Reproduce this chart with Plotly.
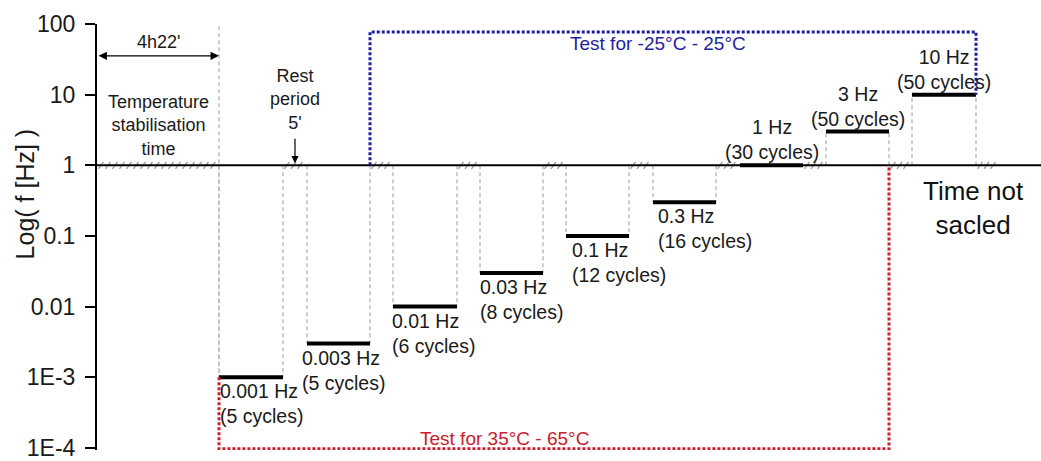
import numpy as np
import plotly.graph_objects as go

# ---- test programme (time axis is not to scale; units are arbitrary) ----
freq_hz = [0.001, 0.003, 0.01, 0.03, 0.1, 0.3, 1, 3, 10]
cycles = [5, 5, 6, 8, 12, 16, 30, 50, 50]
freq_text = ["0.001", "0.003", "0.01", "0.03", "0.1", "0.3", "1", "3", "10"]
step_start = [122, 210, 296, 383, 469, 556, 643, 729, 815]
step_end = [186, 273, 360, 446, 532, 619, 706, 792, 879]
stabilisation_end = 122
rest_after = [903]          # final rest after the 10 Hz step
time_end = 944

y_tickvals = [1e-4, 1e-3, 0.01, 0.1, 1, 10, 100]
y_ticktext = ["1E-4", "1E-3", "0.01", "0.1", "1", "10", "100"]

FONT = "Liberation Sans, Arial, sans-serif"
BLUE = "#1f1f9e"
RED = "#c8202e"
DASH_GREY = "#bdbdbd"
HATCH_GREY = "#9a9a9a"

# log range: a little room below 1E-4 so the bottom dotted border is not clipped
Y_LO, Y_HI = -4.03, 2.0
PX_PER_DECADE = 71.3
TOP = 24
plot_h = round((Y_HI - Y_LO) * PX_PER_DECADE)

fig = go.Figure()

# dashed guides from the 1 Hz baseline to each step level
gx, gy = [], []
for s, e, f in zip(step_start, step_end, freq_hz):
    for x in (s, e):
        gx += [x, x, None]
        gy += [1, f, None]
# end of the stabilisation period
gx += [stabilisation_end, stabilisation_end, None]
gy += [93, freq_hz[0], None]
fig.add_trace(go.Scatter(x=gx, y=gy, mode="lines",
                         line=dict(color=DASH_GREY, width=1.5, dash="4px,3px"),
                         hoverinfo="skip", showlegend=False))

# hatching on the baseline during stabilisation and rest periods
rest_spans = [(0, stabilisation_end)]
rest_spans += list(zip(step_end, step_start[1:] + rest_after))
hx, hy = [], []
k = 10 ** (3.5 / PX_PER_DECADE)
for a, b in rest_spans:
    spacing = 7 if b - a > 40 else 6.5
    for x in np.arange(a + 4, b - 0.5, spacing):
        hx += [x - 2.5, x + 2.5, None]
        hy += [1 / k, k, None]
fig.add_trace(go.Scatter(x=hx, y=hy, mode="lines",
                         line=dict(color=HATCH_GREY, width=1.3),
                         hoverinfo="skip", showlegend=False))

# 1 Hz baseline
fig.add_trace(go.Scatter(x=[0, time_end], y=[1, 1], mode="lines",
                         line=dict(color="black", width=2),
                         hoverinfo="skip", showlegend=False))

# loading steps
bx, by = [], []
for s, e, f in zip(step_start, step_end, freq_hz):
    bx += [s, e, None]
    by += [f, f, None]
fig.add_trace(go.Scatter(x=bx, y=by, mode="lines",
                         line=dict(color="black", width=4),
                         hoverinfo="skip", showlegend=False))

# low-temperature test window (-25 to 25 °C)
fig.add_trace(go.Scatter(
    x=[step_end[1], step_end[1], step_end[8], step_end[8]],
    y=[1, 77, 77, freq_hz[8]], mode="lines",
    line=dict(color=BLUE, width=3, dash="3px,2px"),
    hoverinfo="skip", showlegend=False))

# high-temperature test window (35 to 65 °C)
fig.add_trace(go.Scatter(
    x=[stabilisation_end, stabilisation_end, step_end[7], step_end[7]],
    y=[freq_hz[0], 0.97e-4, 0.97e-4, 1], mode="lines",
    line=dict(color=RED, width=3, dash="3px,2px"),
    hoverinfo="skip", showlegend=False))

ann = []
# step labels: low frequencies below the bar, high frequencies above it
below_dx = [-1, -7, -3, -2, 4, 3]
label_font = dict(size=19.5, color="#1a1a1a", family=FONT)
for i, (s, e, f, ft, c) in enumerate(zip(step_start, step_end, freq_hz, freq_text, cycles)):
    txt = f"{ft} Hz<br>({c} cycles)"
    if f < 1:
        ann.append(dict(x=s, y=np.log10(f), text=txt, xanchor="left", yanchor="top",
                        align="left", showarrow=False, xshift=below_dx[i], yshift=-1,
                        font=label_font))
    else:
        ann.append(dict(x=(s + e) / 2, y=np.log10(f), text=txt, xanchor="center",
                        yanchor="bottom", align="center", showarrow=False, yshift=0,
                        font=label_font))

# stabilisation duration arrow
ann.append(dict(x=stabilisation_end, y=1.549, ax=0, ay=1.549, xref="x", yref="y",
                axref="x", ayref="y", text="", showarrow=True, arrowhead=2,
                arrowside="end+start", arrowsize=1.3, arrowwidth=1.3, arrowcolor="black"))
ann.append(dict(x=stabilisation_end / 2, y=1.746, text="4h22'", showarrow=False,
                font=dict(size=18, color="#1a1a1a", family=FONT)))
ann.append(dict(x=stabilisation_end / 2, y=1.07, text="Temperature<br>stabilisation<br>time",
                showarrow=False, yanchor="top", align="center",
                font=dict(size=18, color="#1a1a1a", family=FONT)))

# rest period marker
rest_mid = (step_end[0] + step_start[1]) / 2
ann.append(dict(x=rest_mid, y=0.028, ax=0, ay=-26, text="", showarrow=True,
                arrowhead=2, arrowsize=1.2, arrowwidth=1.2, arrowcolor="black"))
ann.append(dict(x=rest_mid, y=0.423, text="Rest<br>period<br>5'", showarrow=False,
                yanchor="bottom", align="center",
                font=dict(size=18, color="#1a1a1a", family=FONT)))

# temperature window captions
ann.append(dict(x=561, y=1.718, text="Test for -25°C - 25°C", showarrow=False,
                font=dict(size=19, color=BLUE, family=FONT)))
ann.append(dict(x=407, y=-3.873, text="Test for 35°C - 65°C", showarrow=False,
                font=dict(size=19, color=RED, family=FONT)))

ann.append(dict(x=876, y=-0.606, text="Time not<br>sacled", showarrow=False,
                align="center", font=dict(size=26, color="#111", family=FONT)))

# y-axis title
ann.append(dict(x=-72 / 944, xref="paper", y=(TOP + plot_h - 196) / plot_h, yref="paper",
                text="Log( f [Hz] )", textangle=-90, showarrow=False,
                xanchor="center", yanchor="middle",
                font=dict(size=25, color="#1a1a1a", family=FONT)))

fig.update_layout(
    width=1041, height=461, autosize=False,
    margin=dict(l=97, r=0, t=TOP, b=461 - TOP - plot_h),
    paper_bgcolor="white", plot_bgcolor="white",
    showlegend=False,
    annotations=ann,
    font=dict(family=FONT, color="#1a1a1a"),
    xaxis=dict(range=[0, time_end], visible=False, fixedrange=True),
    yaxis=dict(type="log", range=[Y_LO, Y_HI], tickvals=y_tickvals, ticktext=y_ticktext,
               ticks="outside", ticklen=10, tickwidth=1.5, tickcolor="black",
               showline=True, linecolor="black", linewidth=2, showgrid=False,
               zeroline=False, ticklabelstandoff=5, ticklabeloverflow="allow",
               tickfont=dict(size=23, color="#1a1a1a", family=FONT)),
)

fig.write_html("out.html")
